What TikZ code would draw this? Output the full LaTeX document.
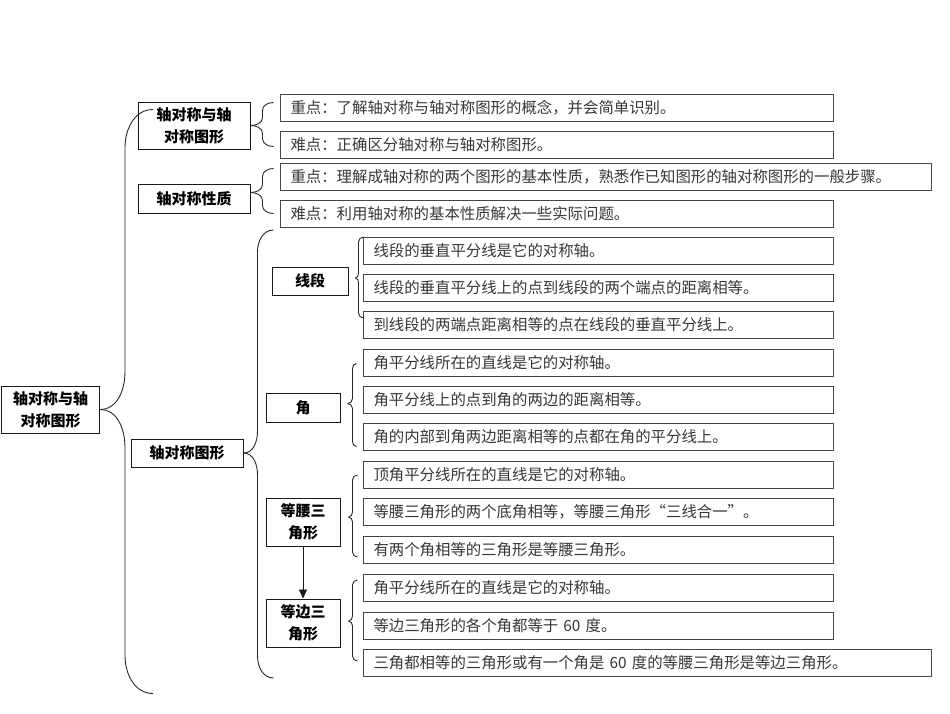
\documentclass[tikz,border=0pt]{standalone}
\usepackage{fontspec}
\setmainfont{Noto Sans CJK SC}
\usetikzlibrary{arrows.meta}
\usepackage{xcolor}
\definecolor{framedark}{RGB}{25, 25, 25}
\definecolor{leafline}{RGB}{70, 70, 70}
\definecolor{leaftext}{RGB}{55, 55, 55}
\definecolor{bracegray}{RGB}{40, 40, 40}

% curly brace: tip, tip to stem, stem to ends, rise, drop, bend
\newcommand{\curly}[6]{%
  \draw[brace] (#1) to[out=0,in=-90] ++(#2,-#6) -- ++(0,{2*#6-#4}) to[out=90,in=180] ++(#3,-#6);
  \draw[brace] (#1) to[out=0,in=90] ++(#2,#6) -- ++(0,{#5-2*#6}) to[out=-90,in=180] ++(#3,#6);
}

\begin{document}
\begin{tikzpicture}[
    x=1pt, y=-1pt,
    topic/.style={rectangle, draw=framedark, line width=1pt, align=center, inner sep=0pt, font=\fontsize{15}{22}\selectfont\bfseries},
    leaf/.style={rectangle, draw=leafline, line width=1pt, anchor=north west, text width=#1, align=left, minimum height=27pt, inner xsep=10pt, inner ysep=0pt, font=\fontsize{15.4}{20}\selectfont, text=leaftext},
    leaf/.default=533pt,
    brace/.style={draw=bracegray, line width=0.9pt},
    arrow/.style={-{Triangle[length=9pt, width=8pt]}, line width=0.9pt, color=framedark},
]
\useasboundingbox (0,0) rectangle (950,713);

% Root
\node[topic, minimum width=98pt, minimum height=47pt] (root) at (50.5,409.5) {轴对称与轴\\对称图形};

% First level
\node[topic, minimum width=112pt, minimum height=47pt] (concept) at (194,125.5) {轴对称与轴\\对称图形};
\node[topic, minimum width=112pt, minimum height=29pt] (property) at (194,198.5) {轴对称性质};
\node[topic, minimum width=112pt, minimum height=28pt] (figure) at (187,453) {轴对称图形};

\curly{root.east}{25}{28}{300}{284}{38}

% Key and difficult points
\node[leaf] (goal1) at (280,94) {重点：了解轴对称与轴对称图形的概念，并会简单识别。};
\node[leaf] (hard1) at (280,131) {难点：正确区分轴对称与轴对称图形。};
\node[leaf=631pt] (goal2) at (280,163) {重点：理解成轴对称的两个图形的基本性质，熟悉作已知图形的轴对称图形的一般步骤。};
\node[leaf] (hard2) at (280,200) {难点：利用轴对称的基本性质解决一些实际问题。};

\curly{concept.east}{12}{11}{23}{21}{8}
\curly{[yshift=6pt]property.east}{12}{11}{24}{21}{8}

% Figures
\node[topic, minimum width=76pt, minimum height=28pt] (seg) at (310,281) {线段};
\node[topic, minimum width=74pt, minimum height=29pt] (ang) at (303,407.5) {角};
\node[topic, minimum width=74pt, minimum height=48pt] (iso) at (303,522) {等腰三\\角形};
\node[topic, minimum width=74pt, minimum height=48pt] (equ) at (303,623) {等边三\\角形};

\curly{figure.east}{14}{16}{223}{225}{22}
\draw[arrow] (iso) -- (equ);

% Segment
\node[leaf=450pt] (seg1) at (363,237) {线段的垂直平分线是它的对称轴。};
\node[leaf=450pt] (seg2) at (363,274) {线段的垂直平分线上的点到线段的两个端点的距离相等。};
\node[leaf=450pt] (seg3) at (363,311) {到线段的两端点距离相等的点在线段的垂直平分线上。};
\curly{[xshift=7pt, yshift=3pt]seg.east}{3}{5}{41}{40}{5}

% Angle
\node[leaf=450pt] (ang1) at (363,349) {角平分线所在的直线是它的对称轴。};
\node[leaf=450pt] (ang2) at (363,386) {角平分线上的点到角的两边的距离相等。};
\node[leaf=450pt] (ang3) at (363,423) {角的内部到角两边距离相等的点都在角的平分线上。};
\curly{[xshift=7pt, yshift=4pt]ang.east}{5}{4}{40}{43}{5}

% Isosceles triangle
\node[leaf=450pt] (iso1) at (363,461) {顶角平分线所在的直线是它的对称轴。};
\node[leaf=450pt] (iso2) at (363,498) {等腰三角形的两个底角相等，等腰三角形“三线合一”。};
\node[leaf=450pt] (iso3) at (363,536) {有两个角相等的三角形是等腰三角形。};
\curly{[xshift=8pt, yshift=5pt]iso.east}{4}{5}{42}{40}{5}

% Equilateral triangle
\node[leaf=450pt] (equ1) at (363,574) {角平分线所在的直线是它的对称轴。};
\node[leaf=450pt] (equ2) at (363,612) {等边三角形的各个角都等于 60 度。};
\node[leaf=548pt] (equ3) at (363,649) {三角都相等的三角形或有一个角是 60 度的等腰三角形是等边三角形。};
\curly{[xshift=8pt, yshift=2pt]equ.east}{4}{5}{41}{40}{5}

\end{tikzpicture}
\end{document}
